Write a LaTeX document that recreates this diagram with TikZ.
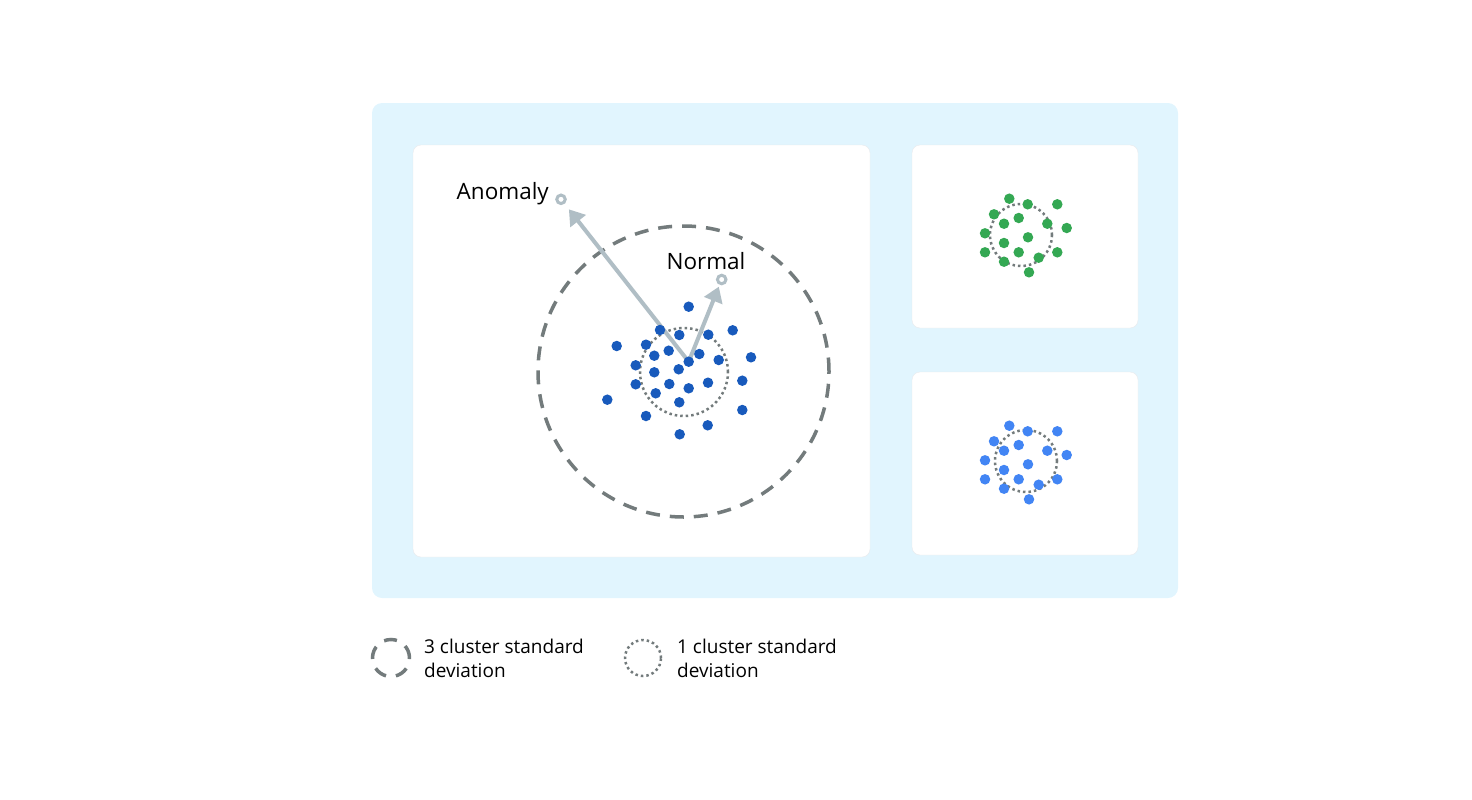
\documentclass[tikz,border=0pt]{standalone}
\usepackage{fontspec}
\setmainfont{Open Sans}
\usetikzlibrary{arrows.meta}

\definecolor{panelbg}{HTML}{E1F5FE}
\definecolor{panelline}{HTML}{E8EAED}
\definecolor{devgray}{HTML}{737B7C}
\definecolor{raygray}{HTML}{B0BEC5}
\definecolor{dotdark}{HTML}{185ABC}
\definecolor{dotlight}{HTML}{4285F4}
\definecolor{dotgreen}{HTML}{34A853}

\tikzset{
  dot/.style={circle, fill=#1, inner sep=0pt, minimum size=10.5pt},
  ring/.style={circle, draw=raygray, line width=3pt, fill=white, inner sep=0pt, minimum size=8.5pt},
  ray/.style={line width=4pt, draw=raygray, -{Triangle[length=15pt,width=19pt]}},
  bigdev/.style={draw=devgray, line width=3.5pt, dash pattern=on 14pt off 10pt},
  onedev/.style={draw=devgray, line width=2.5pt, dash pattern=on 2.5pt off 3pt},
  lbl/.style={font=\fontsize{22.5}{27}\selectfont, inner sep=0pt},
  legtxt/.style={font=\fontsize{19}{24}\selectfont, inner sep=0pt, align=left, anchor=west}
}

\begin{document}
\begin{tikzpicture}[x=1pt,y=-1pt]
        \useasboundingbox (0,0) rectangle (1472,800);

        % panels
        \filldraw[fill=panelbg, draw=none, rounded corners=10] (372,103) rectangle (1178,598);
        \draw[fill=white, draw=panelline, rounded corners=8] (413,145) rectangle (870,557);
        \draw[fill=white, draw=panelline, rounded corners=8] (912,145) rectangle (1138,328);
        \draw[fill=white, draw=panelline, rounded corners=8] (912,372) rectangle (1138,555);

        % deviation circles
        \draw[bigdev] (683.5,371.5) circle (145.5pt);
        \draw[onedev] (684,372) circle (44pt);
        \draw[onedev] (1021,235) circle (31pt);
        \draw[onedev] (1026,461) circle (31pt);

        % rays
        \node[ring] (anom) at (561,199.3) {};
        \node[ring] (norm) at (721.7,279.5) {};
        \coordinate (orig) at (688.7,361.7);
        \draw[ray, shorten >=7pt] (orig) -- (anom);
        \draw[ray, shorten >=2pt] (orig) -- (norm);

        \node[lbl, anchor=east] (anomtxt) at (549,194) {Anomaly};
        \node[lbl] (normtxt) at (706,261) {Normal};

        % main cluster
        \node[dot=dotdark] (o) at (orig) {};
        \foreach \px/\py [count=\i] in {688.7/306.7, 660/330, 679.3/335, 708.3/334.7, 732.7/330.3,
            616.7/346, 646/344.7, 654.3/355.7, 668.7/350.7, 699.3/354, 718.7/360, 751/357.3,
            635.7/365.3, 654.3/372.3, 678.7/369.3, 635.7/384.3, 669.3/384, 688.7/388.3,
            708/382.7, 742.3/380.7, 607.3/399.7, 655.7/393.3, 679.3/402.3, 646/416,
            742.3/410, 707.7/425.3, 679.7/434.3}
            \node[dot=dotdark] (m\i) at (\px,\py) {};

        % small clusters
        \foreach \px/\py [count=\i] in {1009.3/425.7, 1027.7/431.3, 1057.3/431.3, 994/441.3,
            1018.7/445, 1004/450.7, 1047.3/450.7, 1066.7/455, 985/460.3, 1004/470,
            1028/464.3, 985/479.3, 1018.7/479.3, 1038.7/484.7, 1057.3/479.3,
            1004/488.7, 1029/499.3}
        {
            \node[dot=dotlight] (b\i) at (\px,\py) {};
            \node[dot=dotgreen] (g\i) at (\px,\py-227) {};
        }

        % legend
        \draw[devgray, line width=3.5pt, dash pattern=on 13pt off 10pt] (391,658) circle (18.5pt);
        \node[legtxt] (legthree) at (424,658) {3 cluster standard\\deviation};
        \draw[onedev] (643,658) circle (18pt);
        \node[legtxt] (legone) at (677,658) {1 cluster standard\\deviation};
\end{tikzpicture}
\end{document}
